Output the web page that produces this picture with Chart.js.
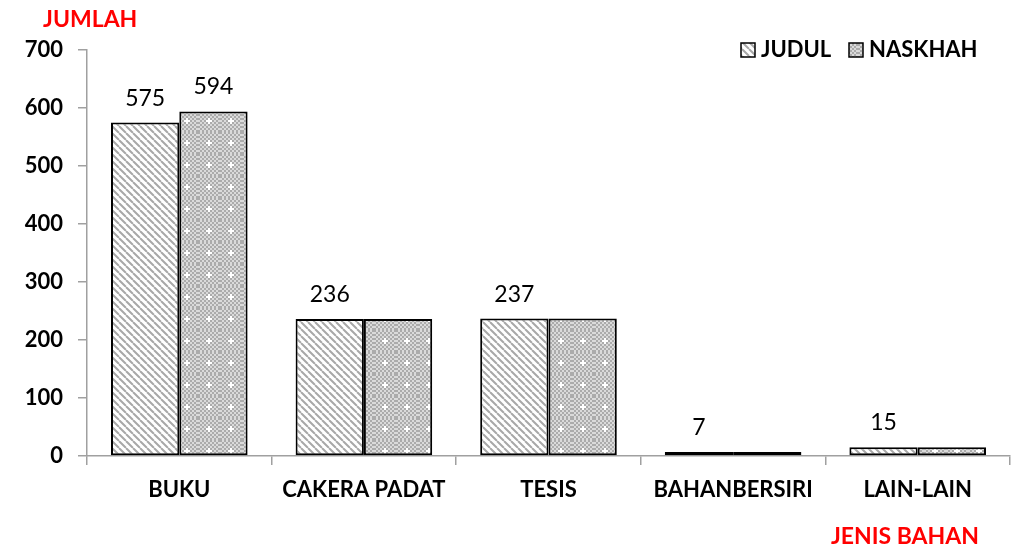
<!DOCTYPE html>
<html>
<head>
<meta charset="utf-8">
<script src="https://cdn.jsdelivr.net/npm/chart.js@4/dist/chart.umd.min.js"></script>
<style>
  body { margin: 0; background: #fff; }
  #wrap { width: 1017px; height: 550px; }
</style>
</head>
<body>
<div id="wrap"><canvas id="bahanPlot" width="1017" height="550"></canvas></div>
<script>
var categories = ["BUKU", "CAKERA PADAT", "TESIS", "BAHANBERSIRI", "LAIN-LAIN"];
var judul = [575, 236, 237, 7, 15];
var naskhah = [594, 236, 237, 7, 15];
var yTicks = [0, 100, 200, 300, 400, 500, 600, 700];

var FONT = "Lato, 'Open Sans', sans-serif";

function stripePattern() {
  var c = document.createElement("canvas");
  c.width = 7; c.height = 7;
  var g = c.getContext("2d");
  g.fillStyle = "#ffffff";
  g.fillRect(0, 0, 7, 7);
  g.strokeStyle = "#a8a8a8";
  g.lineWidth = 2;
  g.beginPath();
  for (var k = -7; k <= 14; k += 7) {
    g.moveTo(k, 0);
    g.lineTo(k + 7, 7);
  }
  g.stroke();
  return g.createPattern(c, "repeat");
}

function dotPattern() {
  var c = document.createElement("canvas");
  c.width = 22; c.height = 22;
  var g = c.getContext("2d");
  for (var y = 0; y < 22; y += 2) {
    for (var x = 0; x < 22; x += 2) {
      g.fillStyle = ((x + y) / 2) % 2 == 0 ? "#ababab" : "#dadada";
      g.fillRect(x, y, 2, 2);
    }
  }
  g.fillStyle = "#ffffff";
  g.fillRect(10, 8, 2, 6);
  g.fillRect(8, 10, 6, 2);
  return g.createPattern(c, "repeat");
}

var judulFill = stripePattern();
var naskhahFill = dotPattern();

var extras = {
  id: "extras",
  afterDatasetsDraw: function(chart) {
    var ctx = chart.ctx;
    ctx.save();
    // value labels
    ctx.font = "23px " + FONT;
    ctx.fillStyle = "#000";
    ctx.textAlign = "center";
    ctx.textBaseline = "alphabetic";
    var m0 = chart.getDatasetMeta(0);
    var m1 = chart.getDatasetMeta(1);
    for (var i = 0; i < categories.length; i++) {
      var b = m0.data[i];
      ctx.fillText(String(judul[i]), b.x, b.y - 17);
      if (naskhah[i] != judul[i]) {
        var b2 = m1.data[i];
        ctx.fillText(String(naskhah[i]), b2.x, b2.y - 17);
      }
    }
    // axis titles
    ctx.font = "bold 23px " + FONT;
    ctx.fillStyle = "#ff0000";
    ctx.textAlign = "left";
    ctx.textBaseline = "middle";
    ctx.fillText("JUMLAH", 43, 20);
    ctx.textAlign = "right";
    ctx.fillText("JENIS BAHAN", 979, 537);
    // legend
    var items = [["JUDUL", judulFill, 741], ["NASKHAH", naskhahFill, 849]];
    ctx.textAlign = "left";
    for (var j = 0; j < items.length; j++) {
      var lx = items[j][2];
      ctx.fillStyle = items[j][1];
      ctx.fillRect(lx, 43, 14, 14);
      ctx.strokeStyle = "#000";
      ctx.lineWidth = 1.5;
      ctx.strokeRect(lx, 43, 14, 14);
      ctx.fillStyle = "#000";
      ctx.font = "bold 22px " + FONT;
      ctx.fillText(items[j][0], lx + 20, 50);
    }
    ctx.restore();
  }
};

var chart = new Chart(document.getElementById("bahanPlot"), {
  type: "bar",
  data: {
    labels: categories,
    datasets: [
      { label: "JUDUL", data: judul, backgroundColor: judulFill, borderColor: "#000", borderWidth: 2, borderSkipped: false },
      { label: "NASKHAH", data: naskhah, backgroundColor: naskhahFill, borderColor: "#000", borderWidth: 2, borderSkipped: false }
    ]
  },
  options: {
    responsive: false,
    animation: false,
    devicePixelRatio: 1,
    layout: { padding: { top: 50, right: 7, left: 0, bottom: 0 } },
    datasets: { bar: { categoryPercentage: 0.74, barPercentage: 1.0 } },
    plugins: { legend: { display: false }, tooltip: { enabled: false } },
    scales: {
      x: {
        grid: { drawOnChartArea: false, color: "#a0a0a0", tickLength: 9, lineWidth: 1.5 },
        border: { color: "#a0a0a0", width: 1.5 },
        ticks: { color: "#000", font: { family: FONT, size: 22, weight: "bold" }, padding: 12 },
        afterFit: function(s) { s.height = 94; }
      },
      y: {
        min: 0,
        max: 700,
        afterBuildTicks: function(s) { s.ticks = yTicks.map(function(v) { return { value: v }; }); },
        grid: { drawOnChartArea: false, color: "#a0a0a0", tickLength: 9, lineWidth: 1.5 },
        border: { color: "#a0a0a0", width: 1.5 },
        ticks: { color: "#000", font: { family: FONT, size: 22, weight: "bold" }, padding: 15 },
        afterFit: function(s) { s.width = 87; }
      }
    }
  },
  plugins: [extras]
});
</script>
</body>
</html>
